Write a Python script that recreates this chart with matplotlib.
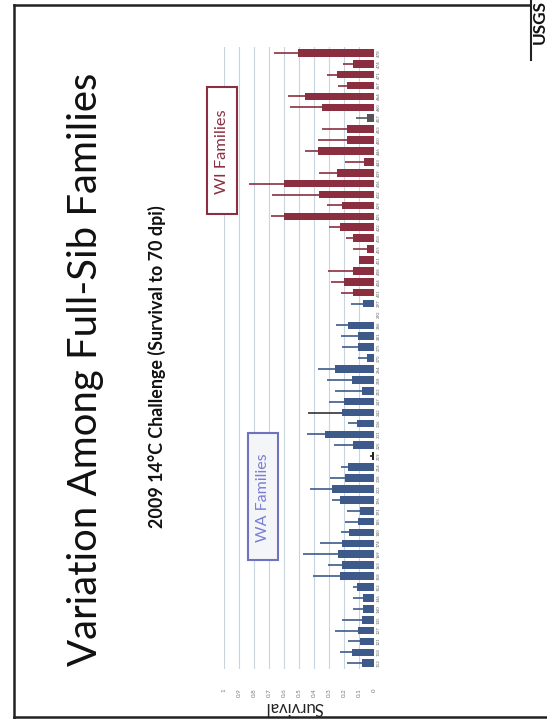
import matplotlib.pyplot as plt
from matplotlib.patches import Rectangle
from matplotlib.lines import Line2D
import numpy as np

W, H = 547, 719

# survival to 70 dpi per full-sib family, listed bottom to top of the (rotated) slide
wa_fams = ["112", "118", "121", "127", "135", "140", "146", "152", "158", "163", "169", "174",
           "180", "185", "191", "196", "203", "208", "214", "219", "225", "231", "236", "242",
           "247", "253", "258", "264", "270", "275", "281", "286", "292", "297"]
wa_surv = [0.082, 0.149, 0.093, 0.104, 0.082, 0.071, 0.071, 0.116, 0.227, 0.216, 0.242, 0.216,
           0.167, 0.104, 0.093, 0.227, 0.280, 0.193, 0.171, 0.012, 0.138, 0.327, 0.116, 0.211,
           0.198, 0.078, 0.144, 0.260, 0.049, 0.104, 0.104, 0.176, 0.000, 0.071]
wa_err = [0.100, 0.078, 0.078, 0.156, 0.134, 0.067, 0.067, 0.025, 0.177, 0.088, 0.229, 0.144,
          0.055, 0.089, 0.089, 0.053, 0.147, 0.100, 0.051, 0.018, 0.126, 0.122, 0.055, 0.229,
          0.100, 0.182, 0.172, 0.111, 0.060, 0.112, 0.118, 0.080, 0.000, 0.082]

wi_fams = ["401", "404", "408", "411", "415", "418", "422", "425", "429", "432", "436", "439",
           "443", "446", "450", "453", "457", "460", "464", "467", "471", "474", "478"]
wi_surv = [0.138, 0.200, 0.143, 0.102, 0.045, 0.140, 0.227, 0.598, 0.216, 0.367, 0.598, 0.249,
           0.068, 0.371, 0.182, 0.182, 0.049, 0.349, 0.460, 0.182, 0.249, 0.138, 0.510]
wi_err = [0.084, 0.088, 0.162, 0.000, 0.094, 0.050, 0.073, 0.089, 0.100, 0.315, 0.235, 0.118,
          0.125, 0.089, 0.189, 0.167, 0.071, 0.211, 0.115, 0.060, 0.067, 0.066, 0.155]

ticks = [0, 0.1, 0.2, 0.3, 0.4, 0.5, 0.6, 0.7, 0.8, 0.9, 1.0]

blue = "#3e5a8b"
red = "#8b2f40"

plt.rcParams['font.family'] = ['Lato', 'DejaVu Sans']

fig = plt.figure(figsize=(W / 100, H / 100), dpi=100)

def fx(x):
    return x / W

def fy(y):
    return 1 - y / H

# slide frame
for (x0, y0, x1, y1) in [(14, 5, 14, 718), (14, 5, 530, 5), (14, 717, 547, 717)]:
    fig.add_artist(Line2D([fx(x0), fx(x1)], [fy(y0), fy(y1)], color="#222222", lw=1.8))

# chart drawn rotated, as on the scanned slide
ax = fig.add_axes([fx(224), fy(668.75), fx(374) - fx(224), fy(47.4) - fy(668.75)])

n_wa = len(wa_surv)
pos_wa = np.arange(n_wa)
pos_wi = np.arange(len(wi_surv)) + n_wa

wa_col = [blue] * n_wa
wa_col[19] = "#222222"
wi_col = [red] * len(wi_surv)
wi_col[16] = "#555555"

ax.barh(pos_wa, wa_surv, height=0.7, color=wa_col, zorder=2)
ax.barh(pos_wi, wi_surv, height=0.7, color=wi_col, zorder=2)

wa_ecol = list(wa_col)
wa_ecol[23] = "#333333"
ax.hlines(pos_wa, wa_surv, np.array(wa_surv) + np.array(wa_err), colors=wa_ecol, lw=1.2, zorder=3)
ax.hlines(pos_wi, wi_surv, np.array(wi_surv) + np.array(wi_err), colors=wi_col, lw=1.2, zorder=3)

ax.set_xlim(1.0, 0)
ax.set_ylim(-0.5, n_wa + len(wi_surv) - 0.5)
ax.set_xticks(ticks)
ax.set_xticklabels([f"{t:g}" for t in ticks])
ax.set_yticks(np.concatenate([pos_wa, pos_wi]))
ax.set_yticklabels(wa_fams + wi_fams)
ax.yaxis.tick_right()
ax.tick_params(axis='x', labelrotation=90, labelsize=4.5, colors="#777777", length=0, pad=14)
ax.tick_params(axis='y', labelrotation=90, labelsize=3.2, colors="#666666", length=0, pad=2)
for lab in ax.get_yticklabels():
    lab.set_va('center')
ax.grid(axis='x', color="#c6d5e0", lw=0.8, zorder=0)
ax.set_axisbelow(True)
for s in ax.spines.values():
    s.set_visible(False)

# label boxes
fig.add_artist(Rectangle((fx(207), fy(214)), fx(237) - fx(207), fy(87) - fy(214),
                         facecolor="white", edgecolor=red, lw=1.5))
fig.add_artist(Rectangle((fx(248), fy(560)), fx(278) - fx(248), fy(433) - fy(560),
                         facecolor="#f3f5f8", edgecolor="#6f73bf", lw=1.5))

texts = [
    (fig.text(fx(85.5), fy(369), "Variation Among Full-Sib Families", rotation=90,
              ha='center', va='center', color="#111111"), 592, 'h'),
    (fig.text(fx(156.5), fy(367), "2009 14°C Challenge (Survival to 70 dpi)", rotation=90,
              ha='center', va='center', color="#111111", weight='bold'), 322, 'h'),
    (fig.text(fx(222), fy(151.5), "WI Families", rotation=90, ha='center', va='center',
              color=red), 84, 'h'),
    (fig.text(fx(263), fy(497.5), "WA Families", rotation=90, ha='center', va='center',
              color="#7b7fd2"), 88, 'h'),
    (fig.text(fx(294), fy(706.5), "Survival", rotation=180, ha='center', va='center',
              color="#222222"), 58, 'w'),
    (fig.text(fx(539.5), fy(22), "USGS", rotation=90, ha='center', va='center',
              color="#111111", weight='bold'), 44, 'h'),
]

fig.canvas.draw()
r = fig.canvas.get_renderer()
for t, length, d in texts:
    bb = t.get_window_extent(r)
    cur = bb.height if d == 'h' else bb.width
    t.set_fontsize(t.get_fontsize() * length / cur)

fig.add_artist(Line2D([fx(531), fx(531)], [fy(0), fy(60)], color="#222222", lw=1.5))

fig.savefig("out.png", dpi=100)
